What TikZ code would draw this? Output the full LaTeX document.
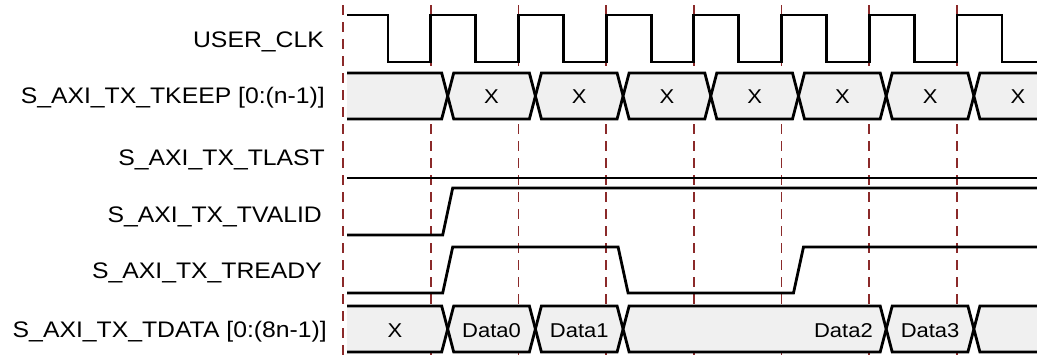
\documentclass[tikz,border=0pt]{standalone}
\usepackage{fontspec}
\setmainfont[FakeStretch=1.1]{Liberation Sans}
\begin{document}
\begin{tikzpicture}[x=1pt,y=-1pt,
  sig/.style={line width=2.8pt,line join=miter,black},
  busfill/.style={fill=busgray},
  grid/.style={line width=1.8pt,draw=gridred,dash pattern=on 10pt off 7pt},
  lbl/.style={anchor=base east,font=\fontsize{22.5}{26}\selectfont,inner sep=0pt},
  val/.style={anchor=base,font=\fontsize{20}{23}\selectfont,inner sep=0pt}]
\definecolor{busgray}{HTML}{F0F0F0}
\definecolor{gridred}{HTML}{8B2A2A}
\useasboundingbox (0,0) rectangle (1037,360);
% dashed timing lines
\foreach \x in {343,430.7,518.4,606.1,693.8,781.5,869.2,956.9}
  \draw[grid] (\x,5) -- (\x,360);
% labels
\node[lbl] (lclk) at (324,47) {USER\_CLK};
\node[lbl] (lkeep) at (325,103) {S\_AXI\_TX\_TKEEP [0:(n-1)]};
\node[lbl] (llast) at (325,165) {S\_AXI\_TX\_TLAST};
\node[lbl] (lvalid) at (322,222) {S\_AXI\_TX\_TVALID};
\node[lbl] (lready) at (322,278) {S\_AXI\_TX\_TREADY};
\node[lbl] (ldata) at (327,337) {S\_AXI\_TX\_TDATA [0:(8n-1)]};
% clock
\draw[sig] (347,15) -- (388,15) -- (388,62) -- (430.7,62) -- (430.7,15)
  -- (475.7,15) -- (475.7,62) -- (518.4,62) -- (518.4,15)
  -- (563.4,15) -- (563.4,62) -- (606.1,62) -- (606.1,15)
  -- (651.1,15) -- (651.1,62) -- (693.8,62) -- (693.8,15)
  -- (738.8,15) -- (738.8,62) -- (781.5,62) -- (781.5,15)
  -- (826.5,15) -- (826.5,62) -- (869.2,62) -- (869.2,15)
  -- (914.2,15) -- (914.2,62) -- (956.9,62) -- (956.9,15)
  -- (1001.9,15) -- (1001.9,62) -- (1037,62);
% bus segments
\newcommand{\myseg}[4]{%
  \filldraw[sig,busfill] (#1,{(#3+#4)/2}) -- ({#1+6},#3) -- ({#2-6},#3) -- (#2,{(#3+#4)/2}) -- ({#2-6},#4) -- ({#1+6},#4) -- cycle;}
\newcommand{\myfirst}[3]{%
  \fill[busfill] (347,#2) -- ({#1-6},#2) -- (#1,{(#2+#3)/2}) -- ({#1-6},#3) -- (347,#3) -- cycle;
  \draw[sig] (347,#2) -- ({#1-6},#2) -- (#1,{(#2+#3)/2}) -- ({#1-6},#3) -- (347,#3);}
\newcommand{\mylast}[3]{%
  \fill[busfill] (1037,#2) -- ({#1+6},#2) -- (#1,{(#2+#3)/2}) -- ({#1+6},#3) -- (1037,#3) -- cycle;
  \draw[sig] (1037,#2) -- ({#1+6},#2) -- (#1,{(#2+#3)/2}) -- ({#1+6},#3) -- (1037,#3);}
% TKEEP
\myfirst{447.7}{73}{119}
\myseg{447.7}{535.4}{73}{119}
\myseg{535.4}{623.1}{73}{119}
\myseg{623.1}{710.8}{73}{119}
\myseg{710.8}{798.5}{73}{119}
\myseg{798.5}{886.2}{73}{119}
\myseg{886.2}{973.9}{73}{119}
\mylast{973.9}{73}{119}
\foreach \x/\n in {491.5/k1,579.3/k2,667/k3,754.7/k4,842.4/k5,930.1/k6,1018/k7}
  \node[val] (\n) at (\x,103) {X};
% TLAST
\draw[sig] (347,178) -- (1037,178);
% TVALID
\draw[sig] (347,235) -- (442.7,235) -- (452.7,188) -- (1037,188);
% TREADY
\draw[sig] (347,293) -- (442.7,293) -- (452.7,247) -- (618.1,247) -- (628.1,293)
  -- (793.5,293) -- (803.5,247) -- (1037,247);
% TDATA
\myfirst{447.7}{306}{352}
\myseg{447.7}{535.4}{306}{352}
\myseg{535.4}{623.1}{306}{352}
\myseg{623.1}{886.2}{306}{352}
\myseg{886.2}{973.9}{306}{352}
\mylast{973.9}{306}{352}
\node[val] (d0) at (395,337) {X};
\node[val] (d1) at (491.5,337) {Data0};
\node[val] (d2) at (579.3,337) {Data1};
\node[val,anchor=base east] (d3) at (873,337) {Data2};
\node[val] (d4) at (930.1,337) {Data3};
\end{tikzpicture}
\end{document}
